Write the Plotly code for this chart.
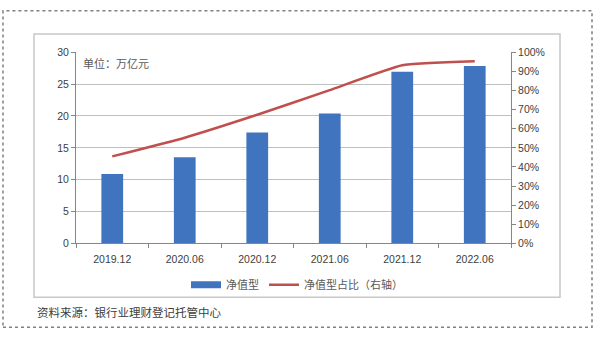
import plotly.graph_objects as go

categories = ["2019.12", "2020.06", "2020.12", "2021.06", "2021.12", "2022.06"]
nav_scale = [10.9, 13.5, 17.4, 20.4, 26.96, 27.86]
nav_share = [45.5, 55.3, 67.3, 80.2, 93.2, 95.3]
left_ticks = [0, 5, 10, 15, 20, 25, 30]
right_ticks = [0, 10, 20, 30, 40, 50, 60, 70, 80, 90, 100]

W, H = 600, 340
def px(x):
    return x / W
def py(y):
    return 1 - y / H

BLUE = "#4174BE"
RED = "#C0504D"
tick_font = dict(family="Liberation Sans, Arial, sans-serif", size=10.5, color="#404040")
cjk = "Noto Sans CJK SC, sans-serif"

fig = go.Figure()
fig.add_trace(go.Bar(
    x=categories, y=nav_scale, name="净值型",
    marker=dict(color=BLUE, line=dict(width=0)),
    width=0.3, yaxis="y", showlegend=False,
))
# legend entry drawn as a wide rectangle like the original
fig.add_trace(go.Scatter(
    x=[categories[0]], y=[None], name="净值型", mode="lines",
    line=dict(color=BLUE, width=7), yaxis="y", hoverinfo="skip",
))
fig.add_trace(go.Scatter(
    x=categories, y=nav_share, name="净值型占比（右轴）",
    mode="lines", line=dict(color=RED, width=2.5, shape="spline", smoothing=0.4),
    yaxis="y2",
))

fig.update_layout(
    width=W, height=H,
    margin=dict(l=0, r=0, t=0, b=0),
    paper_bgcolor="white", plot_bgcolor="white",
    showlegend=True,
    legend=dict(orientation="h", x=0.495, xanchor="center", y=py(289), yanchor="middle",
                font=dict(family=cjk, size=11, color="#595959"),
                itemwidth=30, traceorder="normal", bgcolor="rgba(0,0,0,0)"),
    xaxis=dict(
        domain=[px(76), px(511)], type="category",
        showline=True, linecolor="#868686", linewidth=1,
        ticks="outside", tickson="boundaries", ticklen=4, tickcolor="#868686",
        tickfont=tick_font, showgrid=False, ticklabelstandoff=6,
    ),
    yaxis=dict(
        domain=[py(246), py(48)], range=[0, 30], tickvals=left_ticks,
        showline=True, linecolor="#868686", linewidth=1,
        ticks="outside", ticklen=4, tickcolor="#868686",
        showgrid=True, gridcolor="#BFBFBF", gridwidth=1,
        tickfont=tick_font, zeroline=False,
    ),
    yaxis2=dict(
        overlaying="y", side="right", range=[0, 100], tickvals=right_ticks,
        ticktext=[f"{v}%" for v in right_ticks],
        showline=True, linecolor="#868686", linewidth=1,
        ticks="outside", ticklen=4, tickcolor="#868686",
        showgrid=False, tickfont=tick_font, zeroline=False,
    ),
    shapes=[
        dict(type="rect", xref="paper", yref="paper",
             x0=px(3), x1=px(592), y0=py(333), y1=py(5),
             line=dict(color="#808080", width=1.5, dash="dot")),
        dict(type="rect", xref="paper", yref="paper",
             x0=px(34), x1=px(560), y0=py(302), y1=py(29),
             line=dict(color="#C8C8C8", width=1.5)),
    ],
    annotations=[
        dict(text="单位：万亿元", xref="paper", yref="paper", x=px(81), y=py(59),
             xanchor="left", yanchor="middle", showarrow=False,
             font=dict(family=cjk, size=11, color="#595959")),
        dict(text="资料来源：银行业理财登记托管中心", xref="paper", yref="paper",
             x=px(35), y=py(317), xanchor="left", yanchor="middle", showarrow=False,
             font=dict(family=cjk, size=11.5, color="#404040")),
    ],
)

fig.write_html("out.html")
